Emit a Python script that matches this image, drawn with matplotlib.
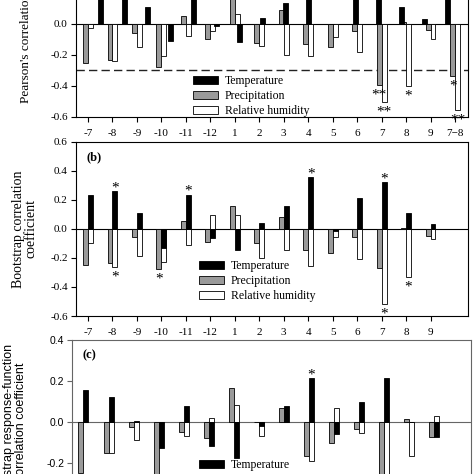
import matplotlib
matplotlib.use("Agg")
import matplotlib.pyplot as plt
import numpy as np

plt.rcParams['font.family'] = ['Liberation Serif', 'DejaVu Serif']
plt.rcParams['axes.unicode_minus'] = False

months_a = ['-7', '-8', '-9', '-10', '-11', '-12', '1', '2', '3', '4', '5', '6', '7', '8', '9', '7\u22128']
months_b = months_a[:15]

# (a) Pearson's correlation
pearson_temp = [0.24, 0.27, 0.112, -0.108, 0.24, -0.011, -0.114, 0.037, 0.137, 0.36,
                0.0, 0.22, 0.34, 0.108, 0.032, 0.37]
pearson_prec = [-0.25, -0.232, -0.056, -0.28, 0.052, -0.095, 0.18, -0.125, 0.09, -0.131,
                -0.146, -0.043, -0.394, 0.01, -0.039, -0.333]
pearson_rh = [-0.028, -0.24, -0.146, -0.204, -0.077, -0.043, 0.065, -0.142, -0.2, -0.206,
              -0.086, -0.178, -0.501, -0.40, -0.097, -0.555]

# (b) bootstrap correlation
boot_temp = [0.234, 0.259, 0.11, -0.134, 0.234, -0.062, -0.143, 0.041, 0.156, 0.356,
             -0.012, 0.211, 0.321, 0.11, 0.034]
boot_prec = [-0.246, -0.237, -0.058, -0.276, 0.052, -0.088, 0.16, -0.099, 0.085, -0.145,
             -0.166, -0.058, -0.272, 0.007, -0.051]
boot_rh = [-0.099, -0.26, -0.189, -0.225, -0.113, 0.097, 0.097, -0.2, -0.145, -0.253,
           -0.058, -0.207, -0.517, -0.329, -0.069]

# (c) bootstrap response function
resp_temp = [0.154, 0.121, 0.005, -0.125, 0.08, -0.115, -0.172, -0.021, 0.078, 0.213,
             -0.056, 0.097, 0.213, 0.0, -0.073]
resp_prec = [-0.245, -0.148, -0.025, -0.3, -0.05, -0.075, 0.165, 0.003, 0.066, -0.163,
             -0.1, -0.032, -0.3, 0.016, -0.073]
resp_rh = [0.0, -0.15, -0.087, 0.0, -0.065, 0.02, 0.085, -0.065, 0.0, -0.19,
           0.07, -0.055, -0.33, -0.166, 0.032]

# significance marks: (series, month index, mark)
stars_a = [('prec', 12, '**'), ('rh', 12, '**'), ('rh', 13, '*'), ('prec', 15, '*'), ('rh', 15, '**')]
stars_b = [('temp', 1, '*'), ('rh', 1, '*'), ('prec', 3, '*'), ('temp', 4, '*'),
           ('temp', 9, '*'), ('temp', 12, '*'), ('rh', 12, '*'), ('rh', 13, '*')]
stars_c = [('temp', 9, '*')]

labels = ['Temperature', 'Precipitation', 'Relative humidity']
gray = '#9a9a9a'
w = 0.2


def put_star(ax, x, val, mark):
    if val > 0:
        off = 0
    else:
        off = -10
    ax.annotate(mark, (x, val), xytext=(0, off), textcoords='offset points',
                ha='center', va='baseline', fontsize=11)


def style_axes(ax, ticks, ylim, color='black'):
    ax.set_xlim(-0.51, 15.53)
    ax.set_ylim(*ylim)
    ax.set_xticks(np.arange(len(ticks)))
    ax.set_xticklabels(ticks)
    ax.set_yticks(np.arange(ylim[0], ylim[1] + 0.001, 0.2))
    ax.yaxis.set_major_formatter(matplotlib.ticker.FormatStrFormatter('%.1f'))
    ax.tick_params(axis='x', direction='out', length=3.5, width=0.8, labelsize=8, pad=5, color=color)
    ax.tick_params(axis='y', direction='out', length=3.5, width=0.8, labelsize=8, pad=2, color=color)
    for s in ax.spines.values():
        s.set_linewidth(0.8)
        s.set_color(color)
    ax.axhline(0, color=color, lw=0.8, zorder=1)


fig = plt.figure(figsize=(4.74, 4.74), dpi=100)

# ---------- (a)
ax1 = fig.add_axes([0.1593, 0.7532, 0.828, 0.3924])
style_axes(ax1, months_a, (-0.6, 0.6))
xa = np.arange(len(months_a))
bp = ax1.bar(xa - w / 2, pearson_prec, w, color=gray, edgecolor='black', lw=0.6, zorder=2)
bh = ax1.bar(xa + w / 2, pearson_rh, w, color='white', edgecolor='black', lw=0.6, zorder=2)
ax1.axhline(-0.3, color='#222222', lw=1.0, linestyle=(0, (6, 3)), zorder=1)
# temperature series sits on its own (slightly narrower) x scale in the original
ax1t = ax1.twiny()
ax1t.set_xlim(-1.10, 15.89)
ax1t.set_xticks([])
for s in ax1t.spines.values():
    s.set_visible(False)
bt = ax1t.bar(xa, pearson_temp, 0.216, color='black', edgecolor='black', lw=0.6, zorder=2)
ax1.text(-0.126, 0.0753, "Pearson's correlation coefficient", transform=ax1.transAxes,
         rotation=90, ha='center', va='bottom', fontsize=9.5)
ax1.legend([bt, bp, bh], labels, loc='upper left', bbox_to_anchor=(0.299, 0.226),
           frameon=False, fontsize=8.5, handlelength=2.1, handleheight=0.7,
           handletextpad=0.6, labelspacing=0.25, borderpad=0, borderaxespad=0)
series_a = {'temp': pearson_temp, 'prec': pearson_prec, 'rh': pearson_rh}
for key, i, mark in stars_a:
    dx = {'temp': 0, 'prec': -w / 2, 'rh': w / 2}[key]
    put_star(ax1, i + dx, series_a[key][i], mark)

# ---------- (b)
ax2 = fig.add_axes([0.1593, 0.3333, 0.828, 0.3677])
style_axes(ax2, months_b, (-0.6, 0.6))
xb = np.arange(len(months_b))
bp = ax2.bar(xb - w / 2, boot_prec, w, color=gray, edgecolor='black', lw=0.6, zorder=2)
bh = ax2.bar(xb + w / 2, boot_rh, w, color='white', edgecolor='black', lw=0.6, zorder=2)
bt = ax2.bar(xb + w / 2, boot_temp, w, color='black', edgecolor='black', lw=0.6, zorder=3)
ax2.text(0.027, 0.912, '(b)', transform=ax2.transAxes, fontsize=9, fontweight='bold',
         ha='left', va='center')
ax2.text(-0.1287, 0.5, 'Bootstrap correlation\ncoefficient', transform=ax2.transAxes,
         rotation=90, ha='center', va='center', fontsize=10, linespacing=1.0)
ax2.legend([bt, bp, bh], labels, loc='upper left', bbox_to_anchor=(0.315, 0.321),
           frameon=False, fontsize=8.5, handlelength=2.1, handleheight=0.7,
           handletextpad=0.6, labelspacing=0.25, borderpad=0, borderaxespad=0)
series_b = {'temp': boot_temp, 'prec': boot_prec, 'rh': boot_rh}
for key, i, mark in stars_b:
    dx = {'temp': w / 2, 'prec': -w / 2, 'rh': w / 2}[key]
    put_star(ax2, i + dx, series_b[key][i], mark)

# ---------- (c)
cgray = '#666666'
ax3 = fig.add_axes([0.1513, -0.0648, 0.8424, 0.3485])
style_axes(ax3, months_b, (-0.4, 0.4), color=cgray)
ax3.set_xlim(-0.47, 15.47)
for t in ax3.get_yticklabels():
    t.set_fontfamily('Liberation Sans')
    t.set_fontsize(7.5)
bp = ax3.bar(xb - w / 2, resp_prec, w, color=gray, edgecolor='black', lw=0.6, zorder=2)
bh = ax3.bar(xb + w / 2, resp_rh, w, color='white', edgecolor='black', lw=0.6, zorder=2)
bt = ax3.bar(xb + w / 2, resp_temp, w, color='black', edgecolor='black', lw=0.6, zorder=3)
ax3.text(0.026, 0.906, '(c)', transform=ax3.transAxes, fontsize=9, fontweight='bold',
         ha='left', va='center')
ax3.text(-0.142, 0.5, 'Bootstrap response-function\ncorrelation coefficient',
         transform=ax3.transAxes, rotation=90, ha='center', va='center',
         fontsize=9, family='Liberation Sans', linespacing=1.0)
ax3.legend([bt, bp, bh], labels, loc='upper left', bbox_to_anchor=(0.319, 0.275),
           frameon=False, fontsize=8.5, handlelength=2.1, handleheight=0.7,
           handletextpad=0.6, labelspacing=0.25, borderpad=0, borderaxespad=0)
series_c = {'temp': resp_temp, 'prec': resp_prec, 'rh': resp_rh}
for key, i, mark in stars_c:
    put_star(ax3, i + w / 2, series_c[key][i], mark)

fig.savefig('out.png', dpi=100)
